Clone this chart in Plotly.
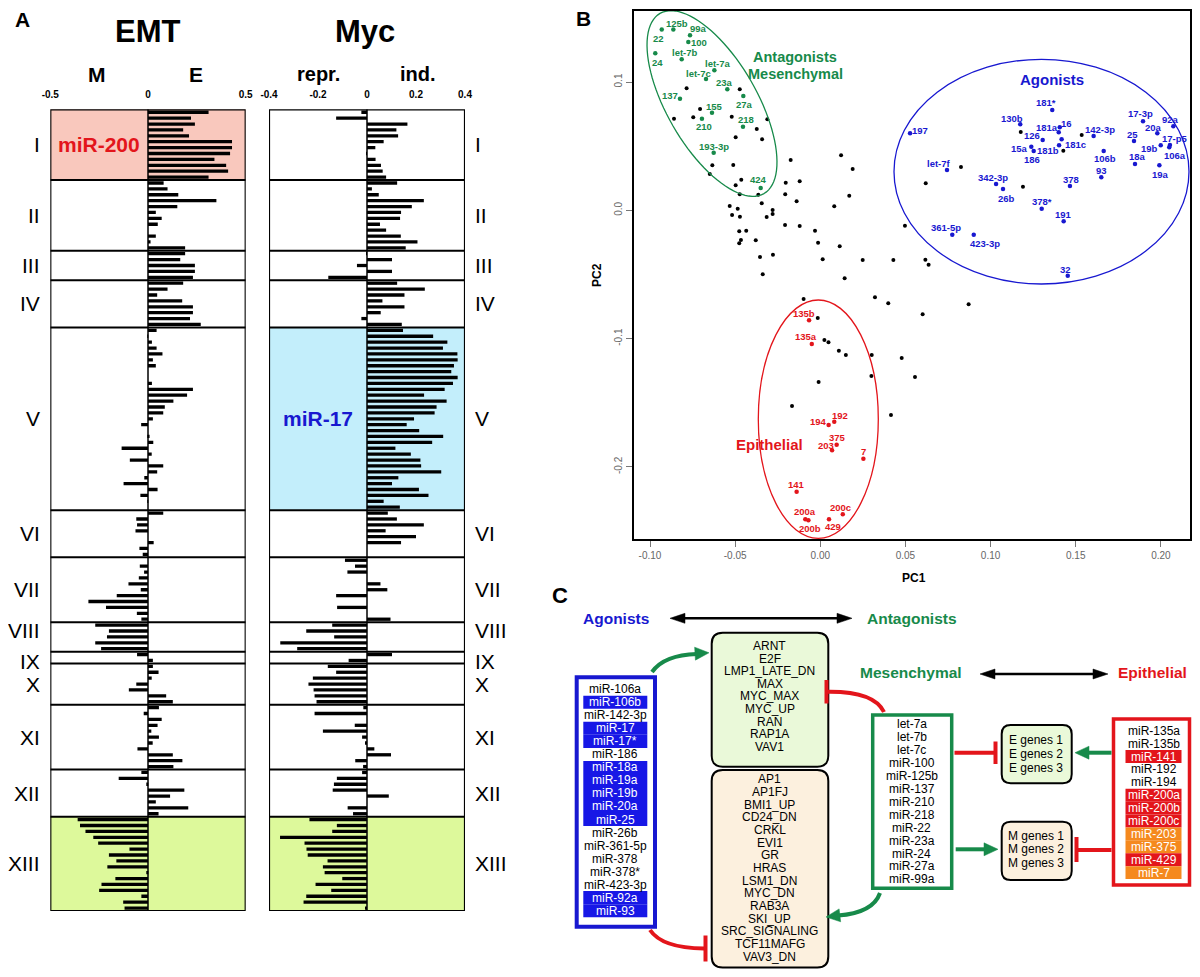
import math
import plotly.graph_objects as go

# The page keeps its default 8px body margin, so the figure is sized to fit the
# 1200x977 window exactly and every coordinate below is given in window pixels.
OFF = 8
W, H = 1200 - 2 * OFF, 977 - 2 * OFF
FONT = "Liberation Sans, Arial, Helvetica, sans-serif"


def PX(x):
    return (x - OFF) / W


def PY(y):
    return 1 - (y - OFF) / H


# ---------------- Panel A data ----------------
cluster_labels = ["I", "II", "III", "IV", "V", "VI", "VII", "VIII", "IX", "X", "XI", "XII", "XIII"]

emt_I = [0.31, 0.22, 0.24, 0.18, 0.21, 0.43, 0.43, 0.42, 0.34, 0.40, 0.41, 0.31]
emt_II = [0.08, 0.10, 0.155, 0.35, 0.15, 0.04, 0.07, 0.05, 0.0, 0.04, 0.013, 0.19]
emt_III = [0.19, 0.165, 0.24, 0.24, 0.23]
emt_IV = [0.18, 0.10, 0.047, 0.175, 0.23, 0.23, 0.215, 0.27]
emt_V = [0.044, -0.003, 0.02, 0.044, 0.074, 0.025, 0.04, 0.0, 0.0, 0.02, 0.23, 0.20, 0.13, 0.086,
         0.078, 0.025, -0.035, 0.0, 0.008, 0.027, -0.135, 0.019, -0.093, 0.078, 0.047, -0.019,
         -0.125, 0.049, -0.039, -0.002, 0.0]
emt_VI = [0.078, -0.06, -0.056, -0.064, 0.0, 0.029, -0.044, -0.027]
emt_VII = [0.0, -0.042, -0.02, -0.047, -0.10, -0.037, -0.16, -0.305, -0.215, -0.057, -0.034]
emt_VIII = [-0.27, -0.20, -0.21, -0.27, -0.24]
emt_IX = [-0.056, 0.025]
emt_X = [0.025, 0.054, 0.019, -0.06, -0.098, 0.093, 0.127]
emt_XI = [0.056, -0.022, 0.07, 0.049, 0.017, 0.056, 0.024, -0.054, 0.127, 0.176, 0.13]
emt_XII = [-0.034, -0.15, -0.005, 0.186, 0.113, 0.04, 0.206, 0.054]
emt_XIII = [-0.36, -0.348, -0.32, -0.28, -0.255, -0.095, -0.2, -0.162, -0.208, -0.005, -0.167,
            -0.238, -0.25, -0.034, -0.127, -0.12]

myc_I = [-0.023, -0.126, 0.165, 0.12, 0.127, 0.068, 0.034, -0.003, 0.035, 0.057, 0.064, 0.078]
myc_II = [0.123, 0.02, 0.048, 0.232, 0.183, 0.139, 0.135, 0.053, 0.078, 0.138, 0.206, 0.158]
myc_III = [-0.003, 0.102, -0.041, 0.102, -0.158]
myc_IV = [0.123, 0.236, 0.153, 0.063, 0.153, 0.056, -0.023, 0.142]
myc_V = [0.147, 0.27, 0.328, 0.31, 0.369, 0.37, 0.355, 0.344, 0.37, 0.351, 0.317, 0.233, 0.325,
         0.284, 0.276, 0.192, 0.162, 0.213, 0.311, 0.266, 0.116, 0.179, 0.218, 0.221, 0.303, 0.128,
         0.102, 0.212, 0.251, 0.068, 0.134]
myc_VI = [0.085, 0.122, 0.232, 0.076, 0.2, 0.139, 0.0, 0.0]
myc_VII = [-0.09, -0.049, -0.08, 0.0, 0.055, 0.083, -0.126, 0.0, -0.122, 0.0, 0.096]
myc_VIII = [-0.142, -0.248, -0.134, -0.354, -0.285]
myc_IX = [0.102, -0.075]
myc_X = [-0.16, -0.126, -0.221, -0.239, -0.218, -0.214, -0.206]
myc_XI = [-0.015, -0.214, 0.0, -0.05, -0.18, -0.02, -0.005, 0.03, 0.098, -0.048, -0.016]
myc_XII = [-0.02, -0.123, -0.135, -0.14, 0.089, 0.0, -0.079, -0.057]
myc_XIII = [-0.235, -0.123, -0.142, -0.355, -0.255, -0.247, -0.242, -0.161, -0.18, -0.173, -0.101,
            -0.21, -0.146, -0.248, -0.259, -0.005]

emt_clusters = [emt_I, emt_II, emt_III, emt_IV, emt_V, emt_VI, emt_VII, emt_VIII, emt_IX, emt_X,
                emt_XI, emt_XII, emt_XIII]
myc_clusters = [myc_I, myc_II, myc_III, myc_IV, myc_V, myc_VI, myc_VII, myc_VIII, myc_IX, myc_X,
                myc_XI, myc_XII, myc_XIII]

emt_ticks = [-0.5, 0, 0.5]
emt_ticklabels = ["-0.5", "0", "0.5"]
myc_ticks = [-0.4, -0.2, 0, 0.2, 0.4]
myc_ticklabels = ["-0.4", "-0.2", "0", "0.2", "0.4"]

# ---------------- Panel B data ----------------
green_names = ["22", "125b", "99a", "100", "24", "let-7b", "let-7a", "let-7c", "23a", "137", "27a",
               "155", "210", "218", "193-3p", "424"]
green_x = [-0.0931, -0.0863, -0.0765, -0.0775, -0.0969, -0.0814, -0.0622, -0.0671, -0.0546, -0.0824,
           -0.0452, -0.0636, -0.0695, -0.0454, -0.0626, -0.035]
green_y = [0.141, 0.141, 0.1364, 0.1312, 0.1224, 0.1177, 0.1091, 0.1023, 0.0943, 0.087, 0.0891,
           0.0761, 0.0714, 0.0652, 0.0449, 0.0174]

blue_names = ["197", "181*", "130b", "181a", "16", "126", "181c", "142-3p", "15a", "181b", "186",
              "106b", "17-3p", "92a", "20a", "25", "17-p5", "19b", "106a", "18a", "19a", "93",
              "let-7f", "342-3p", "26b", "378", "378*", "191", "361-5p", "423-3p", "32"]
blue_x = [0.0527, 0.1362, 0.1174, 0.14, 0.1406, 0.1306, 0.1417, 0.1605, 0.1239, 0.1402, 0.1253,
          0.1664, 0.1895, 0.2073, 0.1979, 0.1842, 0.2053, 0.1999, 0.2049, 0.1848, 0.1991, 0.165,
          0.0744, 0.1032, 0.1073, 0.1466, 0.13, 0.1429, 0.0775, 0.0901, 0.1453]
blue_y = [0.06, 0.0782, 0.067, 0.0608, 0.0647, 0.0548, 0.0553, 0.0579, 0.0496, 0.0507, 0.0462,
          0.0462, 0.0694, 0.0655, 0.06, 0.054, 0.0509, 0.0507, 0.0491, 0.0361, 0.0351, 0.0257,
          0.0314, 0.0205, 0.0166, 0.0189, 0.0012, -0.0086, -0.019, -0.019, -0.051]

red_names = ["135b", "135a", "192", "194", "375", "203", "7", "141", "200a", "200b", "429", "200c"]
red_x = [-0.0066, -0.005, 0.0082, 0.0049, 0.0096, 0.0069, 0.0253, -0.0139, -0.0088, -0.007,
         0.0051, 0.0132]
red_y = [-0.0857, -0.1042, -0.1648, -0.1673, -0.1827, -0.1871, -0.1936, -0.2193, -0.2408, -0.2416,
         -0.2408, -0.2369]

other_x = [-0.0785, -0.0473, -0.0706, -0.0859, -0.0746, -0.052, -0.0311, -0.0373, -0.0342, -0.0497,
           -0.0174, -0.0511, -0.0634, -0.0649, 0.0122, 0.019, -0.0464, -0.0497, -0.0203, -0.0121,
           -0.0473, -0.0364, -0.0206, 0.017, -0.0344, -0.0139, 0.0082, -0.0532, -0.0485, -0.028,
           -0.028, -0.0518, -0.0472, -0.0315, -0.0207, -0.0121, -0.0476, -0.0435, -0.0031, -0.0466,
           -0.0476, -0.0379, -0.0013, 0.0114, -0.0354, -0.0278, 0.0014, 0.0249, -0.0338, 0.0143,
           0.1177, 0.0826, 0.0619, 0.119, 0.1535, 0.1427, 0.0497, 0.0429, 0.0617, 0.0636, 0.0399,
           0.0871, -0.0098, 0.0321, -0.0015, 0.0024, 0.0048, 0.0109, 0.015, 0.0302, 0.0478, 0.03,
           -0.001, -0.0166, 0.0415, 0.0601, 0.0556]
other_y = [0.0951, 0.0943, 0.079, 0.0714, 0.0725, 0.073, 0.0709, 0.0634, 0.0553, 0.0569, 0.0392,
           0.0353, 0.0351, 0.0283, 0.0429, 0.0322, 0.0239, 0.0195, 0.0215, 0.0226, 0.0125, 0.0122,
           0.0125, 0.0114, 0.0055, 0.007, 0.0031, 0.0034, 0.0012, 0.0002, -0.0029, -0.0037, -0.005,
           -0.0052, -0.0115, -0.0122, -0.0164, -0.0159, -0.0159, -0.0231, -0.0257, -0.0234, -0.0252,
           -0.0281, -0.0364, -0.0346, -0.0382, -0.0387, -0.0499, -0.053, 0.061, 0.0337, 0.021,
           0.0184, 0.0587, 0.0465, -0.012, -0.0387, -0.0385, -0.0424, -0.0725, -0.0733, -0.0691,
           -0.0678, -0.0839, -0.1011, -0.1029, -0.1094, -0.1128, -0.1128, -0.1151, -0.1292, -0.1338,
           -0.1525, -0.1595, -0.0811, -0.1299]

pc1_ticks = [-0.10, -0.05, 0.00, 0.05, 0.10, 0.15, 0.20]
pc1_ticklabels = ["-0.10", "-0.05", "0.00", "0.05", "0.10", "0.15", "0.20"]
pc2_ticks = [-0.2, -0.1, 0.0, 0.1]
pc2_ticklabels = ["-0.2", "-0.1", "0.0", "0.1"]

# ---------------- Panel C data ----------------
agonist_mirs = ["miR-106a", "miR-106b", "miR-142-3p", "miR-17", "miR-17*", "miR-186", "miR-18a",
                "miR-19a", "miR-19b", "miR-20a", "miR-25", "miR-26b", "miR-361-5p", "miR-378",
                "miR-378*", "miR-423-3p", "miR-92a", "miR-93"]
agonist_marked = [0, 1, 0, 1, 1, 0, 1, 1, 1, 1, 1, 0, 0, 0, 0, 0, 1, 1]
myc_up_sets = ["ARNT", "E2F", "LMP1_LATE_DN", "MAX", "MYC_MAX", "MYC_UP", "RAN", "RAP1A", "VAV1"]
myc_down_sets = ["AP1", "AP1FJ", "BMI1_UP", "CD24_DN", "CRKL", "EVI1", "GR", "HRAS", "LSM1_DN",
                 "MYC_DN", "RAB3A", "SKI_UP", "SRC_SIGNALING", "TCF11MAFG", "VAV3_DN"]
mes_mirs = ["let-7a", "let-7b", "let-7c", "miR-100", "miR-125b", "miR-137", "miR-210", "miR-218",
            "miR-22", "miR-23a", "miR-24", "miR-27a", "miR-99a"]
epi_mirs = ["miR-135a", "miR-135b", "miR-141", "miR-192", "miR-194", "miR-200a", "miR-200b",
            "miR-200c", "miR-203", "miR-375", "miR-429", "miR-7"]
epi_marked = ["", "", "r", "", "", "r", "r", "r", "o", "o", "r", "o"]
e_genes = ["E genes 1", "E genes 2", "E genes 3"]
m_genes = ["M genes 1", "M genes 2", "M genes 3"]

# ---------------- styles ----------------
PINK = "#F9C8BD"
CYAN = "#C3EEFB"
LIME = "#DDF99B"
GREEN = "#178A4A"
BLUE = "#1818D0"
BLUE_FILL = "#1717E6"
RED = "#E3151B"
ORANGE = "#F5891E"
LGREEN_FILL = "#EAF9D9"
BEIGE_FILL = "#FCF0DE"

# label offsets from their point, in screen pixels (right, down)
label_offset = {
    "22": (-3, 9), "125b": (4, -6), "99a": (8, -7), "100": (11, 1), "24": (2, 9),
    "let-7b": (3, -7), "let-7a": (4, -7), "let-7c": (-8, -6), "23a": (-3, -7), "137": (-10, -3),
    "27a": (1, 9), "155": (3, -6), "210": (2, 8), "218": (3, -7), "193-3p": (0, -6), "424": (-2, -8),
    "197": (10, -3), "181*": (-6, -7), "130b": (-8, -6), "181a": (-12, -5), "16": (7, -4),
    "126": (-11, -4), "181c": (14, 5), "142-3p": (6, -7), "15a": (-12, 2), "181b": (-11, 5),
    "186": (-2, 8), "106b": (1, 7), "17-3p": (-3, -8), "92a": (-3, -7), "20a": (-4, -6),
    "25": (-1, -7), "17-p5": (5, -7), "19b": (-11, 3), "106a": (6, 8), "18a": (2, -7),
    "19a": (1, 9), "93": (0, -7), "let-7f": (-8, -7), "342-3p": (-3, -7), "26b": (3, 9),
    "378": (1, -7), "378*": (0, -7), "191": (0, -7), "361-5p": (-6, -7), "423-3p": (11, 9),
    "32": (-2, -6),
    "135b": (-5, -7), "135a": (-6, -7), "192": (6, -6), "194": (-10, -3), "375": (1, -7),
    "203": (-6, -5), "7": (0, -7), "141": (0, -7), "200a": (0, -8), "200b": (2, 8), "429": (4, 7),
    "200c": (-2, -7),
}

shapes = []
annotations = []


def txt(x, y, s, size, color="black", bold=False, xanchor="center", yanchor="middle", angle=0,
        xref="paper", yref="paper"):
    annotations.append(dict(
        x=PX(x) if xref == "paper" else x, y=PY(y) if yref == "paper" else y,
        xref=xref, yref=yref, text=f"<b>{s}</b>" if bold else s, showarrow=False,
        font=dict(family=FONT, size=size, color=color), xanchor=xanchor, yanchor=yanchor,
        textangle=angle, borderpad=0))


def P(x, y):
    return f"{PX(x):.5f},{PY(y):.5f}"


def rect_px(x0, y0, x1, y1, fill=None, line_color=None, lw=0, layer="above"):
    shapes.append(dict(type="rect", xref="paper", yref="paper", x0=PX(x0), x1=PX(x1), y0=PY(y1),
                       y1=PY(y0), fillcolor=fill if fill else "rgba(0,0,0,0)",
                       line=dict(color=line_color if line_color else "rgba(0,0,0,0)", width=lw),
                       layer=layer))


def path_px(d, color, lw, fill=None):
    shapes.append(dict(type="path", xref="paper", yref="paper", path=d,
                       line=dict(color=color, width=lw),
                       fillcolor=fill if fill else "rgba(0,0,0,0)", layer="above"))


def round_rect(x0, y0, x1, y1, r, fill, color="black", lw=2):
    d = (f"M {P(x0 + r, y0)} L {P(x1 - r, y0)} Q {P(x1, y0)} {P(x1, y0 + r)} "
         f"L {P(x1, y1 - r)} Q {P(x1, y1)} {P(x1 - r, y1)} L {P(x0 + r, y1)} "
         f"Q {P(x0, y1)} {P(x0, y1 - r)} L {P(x0, y0 + r)} Q {P(x0, y0)} {P(x0 + r, y0)} Z")
    path_px(d, color, lw, fill)


def head(tx, ty, dx, dy, color, L=13, w=6.5):
    n = math.hypot(dx, dy)
    dx, dy = dx / n, dy / n
    bx_, by_ = tx - L * dx, ty - L * dy
    nx, ny = -dy, dx
    d = f"M {P(tx, ty)} L {P(bx_ + w * nx, by_ + w * ny)} L {P(bx_ - w * nx, by_ - w * ny)} Z"
    path_px(d, color, 0.5, color)


def line_px(x0, y0, x1, y1, color, lw):
    shapes.append(dict(type="line", xref="paper", yref="paper", x0=PX(x0), y0=PY(y0), x1=PX(x1),
                       y1=PY(y1), line=dict(color=color, width=lw), layer="above"))


# ---------------- Panel A ----------------
A_TOP, A_BOT = 109.3, 911.0
EMT_L, EMT_R = 50.3, 245.7
MYC_L, MYC_R = 269.0, 465.0

emt_all = [v for c in emt_clusters for v in c]
myc_all = [v for c in myc_clusters for v in c]
n_rows = len(emt_all)
rows = [i + 0.5 for i in range(n_rows)]
bounds = [0]
for c in emt_clusters:
    bounds.append(bounds[-1] + len(c))

fig = go.Figure()
fig.add_trace(go.Bar(x=emt_all, y=rows, orientation="h", width=0.56,
                     marker=dict(color="black", line=dict(width=0)),
                     xaxis="x", yaxis="y", showlegend=False))
fig.add_trace(go.Bar(x=myc_all, y=rows, orientation="h", width=0.56,
                     marker=dict(color="black", line=dict(width=0)),
                     xaxis="x2", yaxis="y2", showlegend=False))

# cluster shading
highlight = [("x", "y", -0.5, 0.5, 0, PINK), ("x", "y", -0.5, 0.5, 12, LIME),
             ("x2", "y2", -0.4, 0.4, 4, CYAN), ("x2", "y2", -0.4, 0.4, 12, LIME)]
for xr, yr, lo, hi, ci, col in highlight:
    shapes.append(dict(type="rect", xref=xr, yref=yr, x0=lo, x1=hi, y0=bounds[ci], y1=bounds[ci + 1],
                       fillcolor=col, line=dict(width=0), layer="below"))
for xr, yr, lo, hi in [("x", "y", -0.5, 0.5), ("x2", "y2", -0.4, 0.4)]:
    for b in bounds[1:-1]:
        shapes.append(dict(type="line", xref=xr, yref=yr, x0=lo, x1=hi, y0=b, y1=b,
                           line=dict(color="black", width=2), layer="above"))
    shapes.append(dict(type="line", xref=xr, yref=yr, x0=0, x1=0, y0=0, y1=n_rows,
                       line=dict(color="black", width=1.5), layer="above"))
    shapes.append(dict(type="rect", xref=xr, yref=yr, x0=lo, x1=hi, y0=0, y1=n_rows,
                       line=dict(color="black", width=2.2), fillcolor="rgba(0,0,0,0)", layer="above"))

nudge = {"VIII": -1.0, "IX": 0.6}
for k, lab in enumerate(cluster_labels):
    mid = (bounds[k] + bounds[k + 1]) / 2 + nudge.get(lab, 0)
    txt(40.5, mid, lab, 21, xanchor="right", yref="y")
    txt(474, mid, lab, 21, xanchor="left", yref="y")

txt(-0.25, (bounds[0] + bounds[1]) / 2, "miR-200", 21, RED, True, xref="x", yref="y")
txt(-0.2, (bounds[4] + bounds[5]) / 2, "miR-17", 21, BLUE, True, xref="x2", yref="y2")

txt(22, 20, "A", 21, bold=True)
txt(148, 31, "EMT", 31, bold=True)
txt(365, 31, "Myc", 31, bold=True)
txt(97, 74, "M", 21, bold=True)
txt(196, 74, "E", 21, bold=True)
txt(318, 74, "repr.", 20, bold=True)
txt(418, 74, "ind.", 20, bold=True)

# ---------------- Panel B ----------------
B_L, B_R, B_T, B_B = 634.3, 1190.0, 11.0, 539.3
xr3 = [-0.10 + (B_L - 650) / 1703, -0.10 + (B_R - 650) / 1703]
yr3 = [(210.3 - B_B) / 1283, (210.3 - B_T) / 1283]


def bx(px):
    return xr3[0] + (px - B_L) / (B_R - B_L) * (xr3[1] - xr3[0])


def by(py):
    return yr3[1] - (py - B_T) / (B_B - B_T) * (yr3[1] - yr3[0])


fig.add_trace(go.Scatter(x=other_x, y=other_y, mode="markers", marker=dict(color="black", size=4),
                         xaxis="x3", yaxis="y3", showlegend=False))
for names, xs, ys, col in [(green_names, green_x, green_y, GREEN),
                           (blue_names, blue_x, blue_y, BLUE),
                           (red_names, red_x, red_y, RED)]:
    fig.add_trace(go.Scatter(x=xs, y=ys, mode="markers", marker=dict(color=col, size=4.5),
                             xaxis="x3", yaxis="y3", showlegend=False))
    for n, xv, yv in zip(names, xs, ys):
        dx, dy = label_offset.get(n, (0, -7))
        annotations.append(dict(x=xv, y=yv, xref="x3", yref="y3", text=f"<b>{n}</b>",
                                showarrow=False, xshift=dx, yshift=-dy, borderpad=0,
                                font=dict(family=FONT, size=9.5, color=col)))

# ellipses
cx, cy, ea, eb, th = 712, 103.5, 104, 45, math.radians(30)
u = (math.sin(th), math.cos(th))
v = (math.cos(th), -math.sin(th))
pts = []
for k in range(97):
    t = 2 * math.pi * k / 96
    px = cx + ea * math.cos(t) * u[0] + eb * math.sin(t) * v[0]
    py = cy + ea * math.cos(t) * u[1] + eb * math.sin(t) * v[1]
    pts.append(f"{bx(px):.6f},{by(py):.6f}")
shapes.append(dict(type="path", xref="x3", yref="y3", path="M " + " L ".join(pts) + " Z",
                   line=dict(color=GREEN, width=1.3), layer="above"))
shapes.append(dict(type="circle", xref="x3", yref="y3", x0=bx(894), x1=bx(1189), y0=by(284),
                   y1=by(59.3), line=dict(color=BLUE, width=1.3), layer="above"))
shapes.append(dict(type="circle", xref="x3", yref="y3", x0=bx(758.3), x1=bx(878.3), y0=by(538.3),
                   y1=by(300), line=dict(color=RED, width=1.3), layer="above"))

txt(795, 56.5, "Antagonists", 14.5, GREEN, True)
txt(795, 73.5, "Mesenchymal", 14.5, GREEN, True)
txt(1052, 79, "Agonists", 15, BLUE, True)
txt(769, 444, "Epithelial", 15, RED, True)
txt(914, 578, "PC1", 12, bold=True)
txt(597, 275, "PC2", 12, bold=True, angle=-90)
txt(583, 19, "B", 21, bold=True)

# ---------------- Panel C ----------------
txt(560, 595, "C", 22, bold=True)
txt(616, 618, "Agonists", 15.5, BLUE, True)
txt(912, 618, "Antagonists", 15.5, GREEN, True)
txt(911, 672, "Mesenchymal", 15.5, GREEN, True)
txt(1152, 672, "Epithelial", 15.5, RED, True)

# double arrows
line_px(682, 618.3, 840, 618.3, "black", 2.5)
head(852, 618.3, 1, 0, "black", 15, 5)
head(670, 618.3, -1, 0, "black", 15, 5)
line_px(992, 674, 1096, 674, "black", 2.5)
head(1108, 674, 1, 0, "black", 15, 5)
head(980, 674, -1, 0, "black", 15, 5)

LIST_SIZE = 12
# agonist box
rect_px(576.7, 677.3, 655, 926.7, fill="white", line_color=BLUE, lw=4)
ag_y0, ag_dy = 689.3, 13.02
for i, (name, m) in enumerate(zip(agonist_mirs, agonist_marked)):
    yc = ag_y0 + i * ag_dy
    if m:
        rect_px(583.3, yc - ag_dy / 2, 647.3, yc + ag_dy / 2, fill=BLUE_FILL)
    txt(615.3, yc, name, LIST_SIZE, "white" if m else "black")

# gene-set boxes
round_rect(711.7, 632.7, 828.3, 766.7, 11, LGREEN_FILL)
for i, name in enumerate(myc_up_sets):
    txt(770, 646 + i * 12.59, name, LIST_SIZE)
round_rect(711.7, 770, 828.3, 967.5, 11, BEIGE_FILL)
for i, name in enumerate(myc_down_sets):
    txt(770, 779.3 + i * 12.67, name, LIST_SIZE)

# mesenchymal box
rect_px(872.7, 715, 951.7, 888.3, fill="white", line_color=GREEN, lw=3.5)
for i, name in enumerate(mes_mirs):
    txt(911.7, 724.3 + i * 12.92, name, LIST_SIZE)

# epithelial box
EP_L, EP_R = 1113.5, 1189.5
rect_px(EP_L, 719, EP_R, 885, fill="white", line_color=RED, lw=3.5)
ep_y0, ep_dy = 730.7, 12.9
for i, (name, m) in enumerate(zip(epi_mirs, epi_marked)):
    yc = ep_y0 + i * ep_dy
    if m:
        rect_px(EP_L + 12, yc - ep_dy / 2, EP_R - 8, yc + ep_dy / 2, fill=RED if m == "r" else ORANGE)
    txt((EP_L + EP_R) / 2 + 2, yc, name, LIST_SIZE, "white" if m else "black")

# E / M gene boxes
round_rect(1001.7, 725, 1071.7, 783.3, 9, LGREEN_FILL)
for i, name in enumerate(e_genes):
    txt(1036, 740 + i * 14.2, name, LIST_SIZE)
round_rect(1001.7, 821.7, 1071.7, 880, 9, BEIGE_FILL)
for i, name in enumerate(m_genes):
    txt(1036, 835.7 + i * 13.5, name, LIST_SIZE)

# curved arrows
path_px(f"M {P(652, 672)} Q {P(664, 655)} {P(697, 654)}", GREEN, 4)
head(709, 652.8, 1, -0.06, GREEN, 14, 6.5)
path_px(f"M {P(650, 930)} Q {P(662, 948)} {P(704, 948.5)}", RED, 4)
line_px(705.5, 935.5, 705.5, 961.5, RED, 4)
path_px(f"M {P(884, 712)} Q {P(874, 691)} {P(827, 691.7)}", RED, 4)
line_px(826.5, 680, 826.5, 703.5, RED, 4)
path_px(f"M {P(880, 893)} Q {P(873, 913)} {P(838, 915.5)}", GREEN, 4)
head(826, 917, -1, 0.12, GREEN, 14, 6.5)

# straight connectors
line_px(954.5, 752.7, 995, 752.7, RED, 4)
line_px(995.5, 741.5, 995.5, 764, RED, 4)
line_px(955.7, 849.3, 986, 849.3, GREEN, 4)
head(998, 849.3, 1, 0, GREEN, 14, 6.5)
line_px(EP_L - 2, 752.7, 1087, 752.7, GREEN, 4)
head(1075, 752.7, -1, 0, GREEN, 14, 6.5)
line_px(EP_L - 2, 850, 1077, 850, RED, 4)
line_px(1076.5, 837, 1076.5, 862, RED, 4)

# ---------------- layout ----------------
axA = dict(showgrid=False, zeroline=False, showline=False, side="top", ticks="", automargin=False,
           tickfont=dict(family=FONT, size=10, color="black"), ticklabelstandoff=8, fixedrange=True)
fig.update_layout(
    width=W, height=H, margin=dict(l=0, r=0, t=0, b=0, pad=0, autoexpand=False),
    paper_bgcolor="white", plot_bgcolor="rgba(0,0,0,0)", barmode="overlay", showlegend=False,
    font=dict(family=FONT),
    xaxis=dict(axA, domain=[PX(EMT_L), PX(EMT_R)], range=[-0.5, 0.5], anchor="y",
               tickvals=emt_ticks, ticktext=[f"<b>{t}</b>" for t in emt_ticklabels]),
    yaxis=dict(domain=[PY(A_BOT), PY(A_TOP)], range=[n_rows, 0], visible=False, anchor="x",
               automargin=False),
    xaxis2=dict(axA, domain=[PX(MYC_L), PX(MYC_R)], range=[-0.4, 0.4], anchor="y2",
                tickvals=myc_ticks, ticktext=[f"<b>{t}</b>" for t in myc_ticklabels]),
    yaxis2=dict(domain=[PY(A_BOT), PY(A_TOP)], range=[n_rows, 0], visible=False, anchor="x2",
                automargin=False),
    xaxis3=dict(domain=[PX(B_L), PX(B_R)], range=xr3, anchor="y3", showgrid=False, zeroline=False,
                showline=True, mirror=True, linecolor="black", linewidth=2, ticks="outside",
                ticklen=6, tickcolor="#777", tickvals=pc1_ticks, ticktext=pc1_ticklabels,
                tickfont=dict(family=FONT, size=10, color="#666"), automargin=False),
    yaxis3=dict(domain=[PY(B_B), PY(B_T)], range=yr3, anchor="x3", showgrid=False, zeroline=False,
                showline=True, mirror=True, linecolor="black", linewidth=2, ticks="outside",
                ticklen=6, tickcolor="#777", tickvals=pc2_ticks, ticktext=pc2_ticklabels,
                tickangle=-90, tickfont=dict(family=FONT, size=10, color="#666"), automargin=False),
    shapes=shapes, annotations=annotations,
)

fig.write_html("out.html")
